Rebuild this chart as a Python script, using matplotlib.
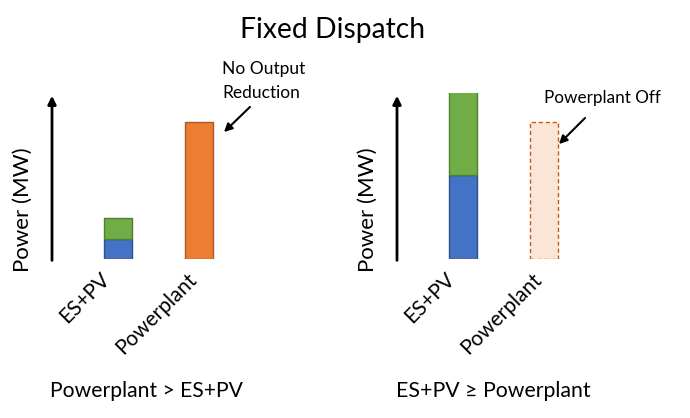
import matplotlib
matplotlib.use("Agg")
import matplotlib.pyplot as plt
from matplotlib.transforms import ScaledTranslation

plt.rcParams['font.family'] = ['Lato', 'DejaVu Sans']

# data (arbitrary MW units)
categories = ["ES+PV", "Powerplant"]
left_es = [20, 0]
left_pv = [21, 0]
left_plant = [0, 137]
right_es = [84, 0]
right_pv = [85, 0]
right_plant = [0, 137]

W, H = 690, 418
fig = plt.figure(figsize=(W / 100, H / 100), dpi=100)

def fx(x):
    return x / W

def fy(y):
    return 1 - y / H

blue, blue_e = "#4472C4", "#2F528F"
green, green_e = "#70AD47", "#507E32"
orange, orange_e = "#ED7D31", "#AE5A21"

# per-label nudge of the rotated category labels (pixels)
label_dx = [-18, -12]

def make_panel(x0, es, pv, plant, plant_off):
    ax = fig.add_axes([fx(x0), fy(259), fx(200), (259 - 93) / H])
    xs = range(len(categories))
    w = 0.346
    ax.bar(xs, es, w, color=blue, edgecolor=blue_e, lw=1)
    ax.bar(xs, pv, w, bottom=es, color=green, edgecolor=green_e, lw=1)
    if plant_off:
        ax.bar(xs, plant, w, color="#FBE5D6", edgecolor="#C55A11", lw=1, linestyle=(0, (3, 2)))
    else:
        ax.bar(xs, plant, w, color=orange, edgecolor=orange_e, lw=1)
    ax.set_xlim(-0.815, -0.815 + 200 / 81)
    ax.set_ylim(0, 166)
    for s in ax.spines.values():
        s.set_visible(False)
    ax.set_yticks([])
    ax.set_xticks(list(xs))
    ax.set_xticklabels(categories, rotation=45, ha="right", rotation_mode="anchor", fontsize=15)
    ax.tick_params(axis="x", length=0, pad=5)
    for lab, dx in zip(ax.get_xticklabels(), label_dx):
        shift = ScaledTranslation(dx / 100, -3 / 100, fig.dpi_scale_trans)
        lab.set_transform(lab.get_transform() + shift)
    ax.set_ylabel("Power (MW)", fontsize=16)
    ax.yaxis.set_label_coords(-0.095, 0.295)
    # vertical arrow axis
    ax.annotate("", xy=(0, 1.0), xytext=(0, -0.025), xycoords="axes fraction",
                arrowprops=dict(arrowstyle="-|>", color="black", lw=2, mutation_scale=12),
                annotation_clip=False)
    return ax

axl = make_panel(52, left_es, left_pv, left_plant, False)
axr = make_panel(397, right_es, right_pv, right_plant, True)

# callouts
fig.text(fx(222), fy(81), "No Output\nReduction", fontsize=12.5, ha="left", va="center", linespacing=1.6)
fig.add_artist(matplotlib.patches.FancyArrowPatch((fx(252), fy(105)), (fx(222), fy(134)),
               transform=fig.transFigure, arrowstyle="-|>", mutation_scale=12, lw=1.5, color="black"))
fig.text(fx(544), fy(98), "Powerplant Off", fontsize=12.3, ha="left", va="center")
fig.add_artist(matplotlib.patches.FancyArrowPatch((fx(587), fy(116)), (fx(557), fy(146)),
               transform=fig.transFigure, arrowstyle="-|>", mutation_scale=12, lw=1.5, color="black"))

fig.text(fx(333), fy(38), "Fixed Dispatch", fontsize=20.3, ha="center", va="baseline")
fig.text(fx(50), fy(397), "Powerplant > ES+PV", fontsize=15.2, ha="left", va="baseline")
fig.text(fx(396), fy(397), "ES+PV \u2265 Powerplant", fontsize=15.3, ha="left", va="baseline")

fig.savefig("out.png", dpi=100)
